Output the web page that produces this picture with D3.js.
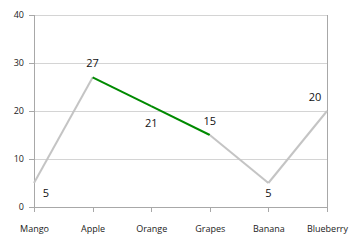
<!DOCTYPE html>
<html>
<head>
<meta charset="utf-8">
<script src="https://cdn.jsdelivr.net/npm/d3@7"></script>
<style>
  body { margin: 0; background: #fff; }
  text { font-family: "Open Sans", "Noto Sans", sans-serif; }
</style>
</head>
<body>
<svg id="chart"></svg>
<script>
const categories = ["Mango", "Apple", "Orange", "Grapes", "Banana", "Blueberry"];
const values = [5, 27, 21, 15, 5, 20];
const segmentColors = ["#c4c4c4", "#008a00", "#008a00", "#c4c4c4", "#c4c4c4"];
const labelPlaces = ["below", "above", "under", "above", "below", "above"];
const yTicks = [0, 10, 20, 30, 40];

const width = 357, height = 243;
const margin = { top: 15, right: 30, bottom: 36, left: 34 };
const innerW = width - margin.left - margin.right;
const innerH = height - margin.top - margin.bottom;

const svg = d3.select("#chart").attr("width", width).attr("height", height);
const g = svg.append("g").attr("transform", `translate(${margin.left},${margin.top})`);

const x = d3.scalePoint().domain(categories).range([0, innerW]);
const y = d3.scaleLinear().domain([0, 40]).range([innerH, 0]);

// grid
g.selectAll(".grid")
  .data(yTicks.slice(1))
  .enter()
  .append("line")
  .attr("x1", 0)
  .attr("x2", innerW)
  .attr("y1", (d) => y(d))
  .attr("y2", (d) => y(d))
  .attr("stroke", "#d4d4d4")
  .attr("stroke-width", 1)
  .attr("shape-rendering", "crispEdges");

// right border
g.append("line")
  .attr("x1", innerW).attr("x2", innerW)
  .attr("y1", 0).attr("y2", innerH)
  .attr("stroke", "#a8a8a8")
  .attr("shape-rendering", "crispEdges");

// axes
const yAxis = d3.axisLeft(y).tickValues(yTicks).tickSize(5).tickPadding(5);
const xAxis = d3.axisBottom(x).tickSize(5).tickPadding(14);

const ya = g.append("g").call(yAxis);
const xa = g.append("g").attr("transform", `translate(0,${innerH})`).call(xAxis);

[ya, xa].forEach((a) => {
  a.select(".domain").attr("stroke", "#a8a8a8").attr("shape-rendering", "crispEdges");
  a.selectAll(".tick line").attr("stroke", "#a8a8a8").attr("shape-rendering", "crispEdges");
  a.selectAll(".tick text").attr("fill", "#222").style("font-size", "9px");
});
ya.select(".domain").attr("d", `M0,0V${innerH}`);
xa.select(".domain").attr("d", `M0,0H${innerW}`);

// line segments
const segs = d3.pairs(categories.map((c, i) => ({ c, v: values[i] })));
g.selectAll(".seg")
  .data(segs)
  .enter()
  .append("line")
  .attr("x1", (d) => x(d[0].c))
  .attr("y1", (d) => y(d[0].v))
  .attr("x2", (d) => x(d[1].c))
  .attr("y2", (d) => y(d[1].v))
  .attr("stroke", (d, i) => segmentColors[i])
  .attr("stroke-width", 2)
  .attr("stroke-linecap", "butt");

// data labels
const dyFor = { above: -14, below: 10, under: 17 };
g.selectAll(".lbl")
  .data(values)
  .enter()
  .append("text")
  .attr("x", (d, i) => Math.max(12, Math.min(innerW - 12, x(categories[i]))))
  .attr("y", (d, i) => y(d) + dyFor[labelPlaces[i]])
  .attr("dy", "0.35em")
  .attr("text-anchor", "middle")
  .attr("fill", "#111")
  .style("font-size", "11px")
  .text((d) => d);
</script>
</body>
</html>
